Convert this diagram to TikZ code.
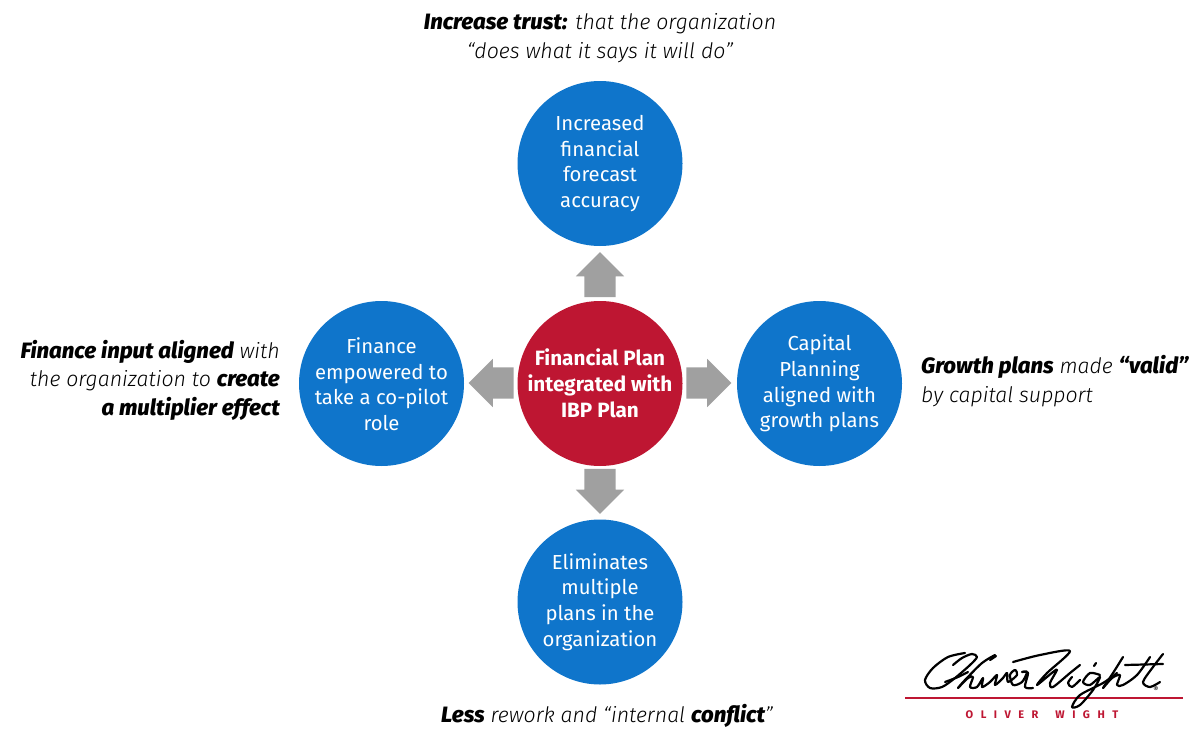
\documentclass[tikz,border=0pt]{standalone}
\usepackage{fontspec}
\setmainfont{Fira Sans}[ItalicFont=Fira Sans Light Italic,ItalicFeatures={Scale=0.96},BoldItalicFont=Fira Sans ExtraBold Italic]
\usetikzlibrary{shapes.arrows}
\definecolor{planblue}{HTML}{0F75CB}
\definecolor{planred}{HTML}{BE1632}
\definecolor{arrowgray}{HTML}{A0A0A0}
\tikzset{
 bluecircle/.style={circle,minimum size=165pt,inner sep=0pt,fill=planblue,align=center,text=white,font=\fontsize{20.3}{25.6}\selectfont},
 redcircle/.style={circle,minimum size=165pt,inner sep=0pt,fill=planred,align=center,text=white,font=\fontsize{20.7}{26}\selectfont\bfseries},
 bigarrow/.style={single arrow,fill=arrowgray,minimum width=48pt,minimum height=45pt,inner xsep=0pt,inner ysep=15.5pt,single arrow head extend=8.5pt,single arrow tip angle=90},
 remark/.style={font=\fontsize{22.2}{28.5}\selectfont\itshape,inner sep=0pt},
 sig/.style={line width=2.2pt,line cap=round,line join=round}
}
\begin{document}
\begin{tikzpicture}[x=1pt,y=-1pt]
 \useasboundingbox (0,0) rectangle (1200,744);
 \node[redcircle] (plan) at (600,383.5) {Financial Plan\\integrated with\\IBP Plan};
 \node[bluecircle] (forecast) at (600,163.5) {Increased\\financial\\forecast\\accuracy};
 \node[bluecircle] (finance) at (381.5,383.5) {\rule{0pt}{17pt}Finance\\empowered to\\take a co-pilot\\role};
 \node[bluecircle] (capital) at (819.5,383.5) {Capital\\Planning\\aligned with\\growth plans};
 \node[bluecircle] (multiple) at (600,602) {Eliminates\\multiple\\plans in the\\organization};
 \node[bigarrow,rotate=90] (arrowup) at (600,282.5) {};
 \node[bigarrow,rotate=-90] (arrowdown) at (600,483.5) {};
 \node[bigarrow,rotate=180] (arrowleft) at (499,383) {};
 \node[bigarrow] (arrowright) at (701,383) {};
 \node[remark,align=center,anchor=center] (trust) at (600,38) {\textbf{Increase trust:} that the organization\\“does what it says it will do”};
 \node[remark,align=right,anchor=east] (aligned) at (280,380) {\textbf{Finance input aligned} with\\the organization to \textbf{create}\\\textbf{a multiplier effect}};
 \node[remark,align=left,anchor=west] (valid) at (921,381) {\textbf{Growth plans} made \textbf{“valid”}\\by capital support};
 \node[remark,anchor=center] (rework) at (607,716) {\textbf{Less} rework and “internal \textbf{conflict}”};
 \draw[planred,line width=1.2pt] (905,698) -- (1183,698);
 \node[text=planred,inner sep=0pt,font=\fontsize{11}{12}\selectfont\bfseries\addfontfeature{LetterSpace=68}] (brand) at (1042,715) {OLIVER\hspace{7pt} WIGHT};
 \node[inner sep=0pt,font=\fontsize{8}{8}\selectfont] (mark) at (1156,689) {®};
 \draw[sig] plot[smooth] coordinates {(965,653) (948,657) (933,668) (925,680) (930,688) (942,687) (955,678) (970,665) (977,657) (972,654) (962,658) (953,665)};
 \draw[sig] plot[smooth] coordinates {(945,682) (958,677) (968,672)};
 \draw[sig] plot[smooth] coordinates {(995,655) (982,663) (965,680) (958,688) (968,678) (973,677) (970,687) (977,687) (983,678) (982,687) (990,682) (997,675) (995,685) (1003,678) (1007,673) (1008,682) (1017,675) (1015,670) (1010,675) (1013,685) (1022,682) (1027,672) (1022,672) (1028,673) (1025,687) (1033,688)};
 \draw[sig] (990,660) -- (996,656);
 \draw[sig] plot[smooth] coordinates {(1013,662) (1040,655) (1070,651) (1047,673) (1037,685) (1053,672) (1057,670) (1050,683) (1053,687) (1070,673) (1080,665)};
 \draw[sig] plot[smooth] coordinates {(1072,677) (1068,683) (1072,687) (1080,680)};
 \draw[sig] plot[smooth] coordinates {(1100,675) (1090,673) (1083,682) (1090,685) (1100,677) (1093,690) (1080,705) (1072,707) (1080,695) (1103,683) (1117,673)};
 \draw[sig] plot[smooth] coordinates {(1123,657) (1113,673) (1103,688) (1112,678) (1120,675) (1117,685) (1123,685) (1137,675) (1150,657)};
 \draw[sig] plot[smooth] coordinates {(1163,654) (1153,667) (1143,682) (1150,687) (1160,682)};
 \draw[sig] (1125,665) -- (1163,664);
 \draw[sig] (1096,663) -- (1094,666);
\end{tikzpicture}
\end{document}
